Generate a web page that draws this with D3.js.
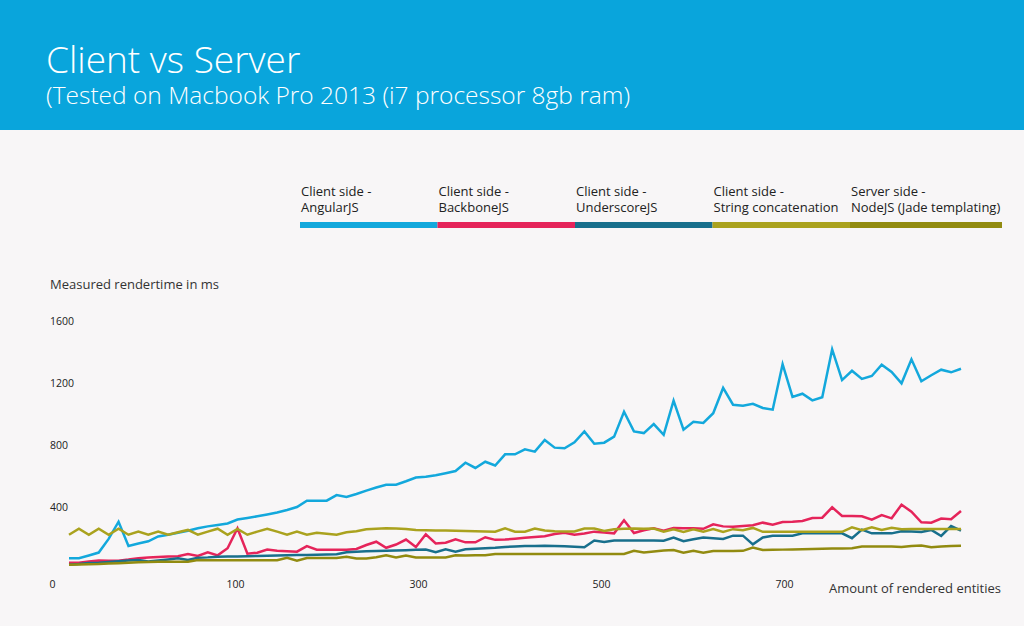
<!DOCTYPE html>
<html>
<head>
<meta charset="utf-8">
<script src="https://cdn.jsdelivr.net/npm/d3@7"></script>
<style>
  html, body { margin: 0; padding: 0; background: #f8f6f7; }
  svg { display: block; font-family: "Open Sans", sans-serif; }
</style>
</head>
<body>
<svg id="chart" width="1024" height="626"></svg>
<script>
const title = "Client vs Server";
const subtitle = "(Tested on Macbook Pro 2013 (i7 processor 8gb ram)";
const yTitle = "Measured rendertime in ms";
const xTitle = "Amount of rendered entities";

const seriesNames = [
  ["Client side -", "AngularJS"],
  ["Client side -", "BackboneJS"],
  ["Client side -", "UnderscoreJS"],
  ["Client side -", "String concatenation"],
  ["Server side -", "NodeJS (Jade templating)"]
];
const seriesColors = ["#13a8dc", "#e5245a", "#186f8c", "#aaa21e", "#928b10"];

const xTickLabels = ["0", "100", "300", "500", "700"];
const yTickValues = [400, 800, 1200, 1600];

const angularJS = [69,69,87,106,194,305,148,165,179,210,221,234,247,263,275,284,294,319,329,340,352,364,381,400,441,441,441,477,465,484,506,526,544,544,566,590,595,605,618,632,686,652,692,668,
  740,740,772,757,832,783,779,817,888,808,815,854,1015,888,877,935,866,1086,899,950,942,1005,1168,1060,1054,1066,1039,1028,1321,1110,1131,1088,1108,1417,1219,1279,1226,1245,1318,1271,1198,1353,1211,1250,1286,1269,1292];
const backboneJS = [41,41,48,55,54,54,61,70,74,77,80,82,97,84,108,88,134,263,99,105,125,118,115,112,148,125,125,125,125,129,155,176,137,158,190,142,224,165,170,192,172,172,205,188,
  190,195,201,206,211,226,234,221,229,241,235,230,314,232,250,263,247,265,263,263,259,288,275,273,277,282,299,286,303,305,310,329,331,398,342,342,340,318,348,327,415,370,301,299,325,321,374];
const underscoreJS = [27,32,39,41,45,50,55,58,48,55,62,69,58,73,75,79,80,81,83,84,85,87,89,90,91,92,94,95,108,112,115,116,117,119,121,124,126,108,127,112,127,130,134,137,
  142,145,148,148,150,148,146,144,140,184,174,184,184,184,184,184,183,203,179,192,203,199,194,215,215,159,203,214,215,215,230,230,230,230,230,199,254,230,230,230,244,242,239,252,213,277,247];
const stringConcat = [221,260,221,260,221,260,221,241,221,241,221,237,252,221,241,260,221,258,221,241,260,241,221,241,221,234,228,221,237,243,256,260,263,261,258,252,250,249,248,246,245,243,242,241,
  262,241,241,261,248,243,242,242,261,261,246,257,260,261,260,261,241,256,239,256,241,258,239,257,250,265,240,240,240,240,240,240,240,240,240,269,250,269,252,266,256,258,258,258,258,258,258];
const nodeJade = [27,29,31,32,35,37,40,43,45,47,47,47,47,58,57,57,57,57,57,57,57,57,73,54,71,71,71,71,79,68,68,76,88,74,87,75,75,75,75,88,87,88,88,97,
  97,97,97,97,97,97,97,97,97,97,97,97,97,117,106,113,119,123,105,117,105,116,116,116,117,139,123,124,125,126,127,129,130,132,133,134,145,145,145,145,142,148,152,141,145,148,150];

const seriesData = [angularJS, backboneJS, underscoreJS, stringConcat, nodeJade];

const svg = d3.select("#chart");

// header band
svg.append("rect").attr("x", 0).attr("y", 0).attr("width", 1024).attr("height", 130).attr("fill", "#09a5dc");
svg.append("text").attr("x", 46).attr("y", 73).attr("fill", "#fff")
  .attr("font-size", 37).attr("font-weight", 300).text(title);
svg.append("text").attr("x", 46).attr("y", 104).attr("fill", "#fff")
  .attr("font-size", 24.5).attr("font-weight", 300).text(subtitle);

// scales
const n = angularJS.length;
const x = d3.scaleLinear().domain([0, n - 1]).range([69, 961]);
const y = d3.scaleLinear().domain([0, 1600]).range([569, 321]);
const xLabelScale = d3.scalePoint().domain(xTickLabels).range([52, 784]);

// y axis labels
const yAxis = svg.append("g").attr("transform", "translate(50,0)")
  .call(d3.axisRight(y).tickValues(yTickValues).tickSize(0).tickPadding(0).tickFormat(d3.format("d")));
yAxis.select(".domain").remove();
yAxis.selectAll("text").attr("font-family", "Open Sans, sans-serif").attr("font-size", 10.5).attr("fill", "#222");

// x axis labels
const xAxis = svg.append("g").attr("transform", "translate(0,581)")
  .call(d3.axisBottom(xLabelScale).tickSize(0).tickPadding(0));
xAxis.select(".domain").remove();
xAxis.selectAll("text").attr("font-family", "Open Sans, sans-serif").attr("font-size", 10.5).attr("fill", "#222");

svg.append("text").attr("x", 50).attr("y", 289).attr("font-size", 13).attr("fill", "#333").text(yTitle);
svg.append("text").attr("x", 829).attr("y", 593).attr("font-size", 13).attr("fill", "#333").text(xTitle);

// legend
const legendScale = d3.scaleBand().domain(d3.range(seriesNames.length)).range([300, 987.5]);
const lg = svg.append("g");
seriesNames.forEach((lines, i) => {
  const x0 = legendScale(i);
  const w = i === seriesNames.length - 1 ? 1002 - x0 : legendScale.bandwidth();
  lg.append("rect").attr("x", x0).attr("y", 222).attr("width", w).attr("height", 6).attr("fill", seriesColors[i]);
  lines.forEach((t, k) => {
    lg.append("text").attr("x", x0 + 1).attr("y", 196 + k * 16).attr("font-size", 13).attr("fill", "#222").text(t);
  });
});

// lines
const line = d3.line().x((d, i) => x(i)).y(d => y(d));
seriesData.forEach((data, i) => {
  svg.append("path").datum(data).attr("d", line).attr("fill", "none")
    .attr("stroke", seriesColors[i]).attr("stroke-width", 2.5).attr("stroke-linejoin", "miter");
});
</script>
</body>
</html>
